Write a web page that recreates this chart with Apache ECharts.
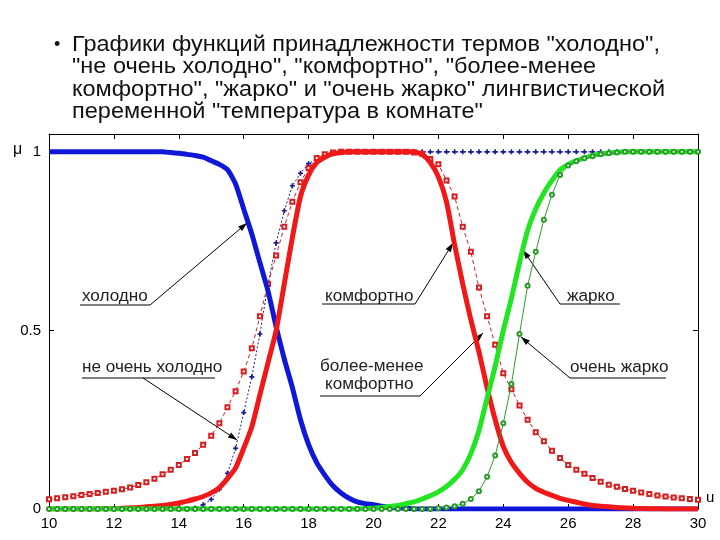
<!DOCTYPE html>
<html><head><meta charset="utf-8">
<script src="https://cdn.jsdelivr.net/npm/echarts@6/dist/echarts.min.js"></script>
<style>html,body{margin:0;padding:0;background:#fff}#c{width:720px;height:540px}</style>
</head><body><div id="c"></div>
<script>
// temperature grid (°C)
const temps = [
 10,10.25,10.5,10.75, 11,11.25,11.5,11.75, 12,12.25,12.5,12.75, 13,13.25,13.5,13.75,
 14,14.25,14.5,14.75, 15,15.25,15.5,15.75, 16,16.25,16.5,16.75, 17,17.25,17.5,17.75,
 18,18.25,18.5,18.75, 19,19.25,19.5,19.75, 20,20.25,20.5,20.75, 21,21.25,21.5,21.75,
 22,22.25,22.5,22.75, 23,23.25,23.5,23.75, 24,24.25,24.5,24.75, 25,25.25,25.5,25.75,
 26,26.25,26.5,26.75, 27,27.25,27.5,27.75, 28,28.25,28.5,28.75, 29,29.25,29.5,29.75, 30];

// "холодно"
const cold = [
 1,1,1,1, 1,1,1,1, 1,1,1,1, 1,1,1,0.998,
 0.996,0.993,0.99,0.985, 0.975,0.965,0.95,0.91, 0.84,0.77,0.69,0.61, 0.51,0.42,0.34,0.25,
 0.18,0.13,0.095,0.065, 0.045,0.03,0.02,0.015, 0.012,0.008,0.005,0.003, 0.002,0,0,0,
 0,0,0,0, 0,0,0,0, 0,0,0,0, 0,0,0,0,
 0,0,0,0, 0,0,0,0, 0,0,0,0, 0,0,0,0, 0];

// "не очень холодно"
const notVeryCold = [
 0,0,0,0, 0,0,0,0, 0,0,0,0, 0,0,0,0,
 0,0,0.003,0.012, 0.027,0.055,0.1,0.17, 0.27,0.37,0.49,0.63, 0.745,0.835,0.905,0.94,
 0.967,0.98,0.99,0.995, 0.998,1,1,1, 1,1,1,1, 1,1,1,1,
 1,1,1,1, 1,1,1,1, 1,1,1,1, 1,1,1,1,
 1,1,1,1, 1,1,1,1, 1,1,1,1, 1,1,1,1, 1];

// "комфортно"
const comfort = [
 0,0,0,0, 0,0,0,0.001, 0.001,0.002,0.003,0.004, 0.006,0.008,0.01,0.013,
 0.017,0.022,0.028,0.035, 0.045,0.06,0.085,0.115, 0.17,0.23,0.32,0.41, 0.5,0.63,0.76,0.875,
 0.935,0.97,0.985,0.995, 0.998,1,1,1, 1,1,1,1, 1,1,0.993,0.97,
 0.93,0.86,0.74,0.63, 0.53,0.44,0.34,0.25, 0.175,0.13,0.1,0.075, 0.058,0.047,0.038,0.03,
 0.024,0.019,0.014,0.01, 0.008,0.006,0.004,0.003, 0.002,0.0015,0.001,0.001, 0,0,0,0, 0];

// "более-менее комфортно"
const moreLessComfort = [
 0.027,0.03,0.033,0.036, 0.039,0.042,0.045,0.048, 0.051,0.055,0.06,0.067, 0.075,0.085,0.097,0.11,
 0.123,0.14,0.157,0.18, 0.205,0.24,0.285,0.33, 0.385,0.45,0.54,0.63, 0.71,0.79,0.86,0.915,
 0.955,0.983,0.993,0.998, 1,1,1,1, 1,1,1,1, 1,0.998,0.995,0.98,
 0.965,0.92,0.875,0.79, 0.72,0.62,0.54,0.46, 0.38,0.335,0.29,0.25, 0.215,0.19,0.163,0.143,
 0.123,0.11,0.099,0.087, 0.076,0.068,0.062,0.056, 0.051,0.046,0.042,0.038, 0.035,0.032,0.03,0.028, 0.026];

// "жарко"
const hot = [
 0,0,0,0, 0,0,0,0, 0,0,0,0, 0,0,0,0,
 0,0,0,0, 0,0,0,0, 0,0,0,0, 0,0,0,0,
 0,0,0,0, 0,0,0,0.001, 0.002,0.004,0.007,0.01, 0.015,0.02,0.028,0.037,
 0.048,0.063,0.083,0.11, 0.155,0.22,0.31,0.4, 0.5,0.59,0.69,0.78, 0.84,0.885,0.92,0.95,
 0.965,0.975,0.983,0.99, 0.994,0.997,0.999,1, 1,1,1,1, 1,1,1,1, 1];

// "очень жарко"
const veryHot = [
 0,0,0,0, 0,0,0,0, 0,0,0,0, 0,0,0,0,
 0,0,0,0, 0,0,0,0, 0,0,0,0, 0,0,0,0,
 0,0,0,0, 0,0,0,0, 0,0,0,0, 0,0,0,0,
 0.002,0.004,0.008,0.015, 0.028,0.05,0.09,0.15, 0.24,0.35,0.49,0.625, 0.72,0.81,0.88,0.935,
 0.962,0.974,0.982,0.988, 0.993,0.996,0.998,1, 1,1,1,1, 1,1,1,1, 1];

const xTicks = {min: 10, max: 30, step: 2};
const yTicks = {min: 0, max: 1.05, step: 0.5};

const titleLines = [
 'Графики функций принадлежности термов "холодно",',
 '"не очень холодно", "комфортно", "более-менее',
 'комфортно", "жарко" и "очень жарко" лингвистической',
 'переменной "температура в комнате"'
];

const pairs = ys => temps.map((t, i) => [t, ys[i]]);

const chart = echarts.init(document.getElementById('c'), null, {renderer: 'canvas'});

const titleFont = '22px "Liberation Sans"';
const ctx = document.createElement('canvas').getContext('2d');
ctx.font = titleFont;
const tScale = 588 / ctx.measureText(titleLines[0]).width;

const graphics = [];
graphics.push({type: 'text', x: 54, y: 45, style: {text: '•', font: '18px "Liberation Sans"', fill: '#111', verticalAlign: 'middle'}});
const titleY = [44.5, 67, 89.5, 112];
titleLines.forEach((t, i) => graphics.push({
  type: 'text', x: 72, y: titleY[i], scaleX: tScale,
  style: {text: t, font: titleFont, fill: '#111', verticalAlign: 'middle'}
}));

const annFont = '16px "Liberation Sans"';
function label(text, x, y) {
  graphics.push({type: 'text', x: x, y: y, scaleX: 1.07,
    style: {text: text, font: annFont, fill: '#222', verticalAlign: 'middle'}});
}
function seg(x1, y1, x2, y2) {
  graphics.push({type: 'line', shape: {x1, y1, x2, y2}, style: {stroke: '#000', lineWidth: 1}});
}
function arrow(x1, y1, x2, y2) {
  seg(x1, y1, x2, y2);
  const dx = x2 - x1, dy = y2 - y1, L = Math.hypot(dx, dy);
  const ux = dx / L, uy = dy / L, len = 9, hw = 3;
  const bx = x2 - ux * len, by = y2 - uy * len;
  graphics.push({type: 'polygon', shape: {points: [[x2, y2], [bx - uy * hw, by + ux * hw], [bx + uy * hw, by - ux * hw]]},
    style: {fill: '#000'}});
}
label('холодно', 82, 297); seg(80, 305, 150, 305); arrow(150, 305, 247, 223);
label('комфортно', 325, 297); seg(322, 304, 415, 304); arrow(415, 304, 453, 243);
label('жарко', 567, 297); seg(560, 304, 620, 304); arrow(560, 304, 523, 250);
label('не очень холодно', 82, 368); seg(82, 378, 215, 378); arrow(143, 378, 237, 440);
label('более-менее', 320, 367); label('комфортно', 325, 385); seg(320, 396, 420, 396); arrow(420, 396, 483, 333);
label('очень жарко', 570, 368); seg(570, 378, 666, 378); arrow(570, 378, 521, 337);
graphics.push({type: 'text', x: 13, y: 150, style: {text: 'μ', font: '16px "Liberation Sans"', fill: '#000', verticalAlign: 'middle'}});
graphics.push({type: 'text', x: 706, y: 498, style: {text: 'u', font: '15px "Liberation Sans"', fill: '#000', verticalAlign: 'middle'}});

const axisCommon = {
  axisLine: {onZero: false, lineStyle: {color: '#000', width: 1}},
  axisTick: {inside: true, length: 5, lineStyle: {color: '#000'}},
  splitLine: {show: false}
};
const lblStyle = {color: '#000', fontSize: 15, fontFamily: 'Liberation Sans'};

const plus = 'path://M2,0h2v2h2v2h-2v2h-2v-2h-2v-2h2z';

const option = {
  animation: false,
  backgroundColor: '#fff',
  graphic: graphics,
  grid: {left: 49, right: 22, top: 134, bottom: 31},
  xAxis: [
    Object.assign({type: 'value', min: xTicks.min, max: xTicks.max, interval: xTicks.step,
      axisLabel: Object.assign({margin: 7}, lblStyle)}, axisCommon),
    Object.assign({type: 'value', position: 'top', min: xTicks.min, max: xTicks.max, interval: xTicks.step,
      axisLabel: {show: false}}, axisCommon)
  ],
  yAxis: [
    Object.assign({type: 'value', min: yTicks.min, max: yTicks.max, interval: yTicks.step,
      axisLabel: Object.assign({margin: 8, showMaxLabel: false}, lblStyle)}, axisCommon),
    Object.assign({type: 'value', position: 'right', min: yTicks.min, max: yTicks.max, interval: yTicks.step,
      axisLabel: {show: false}}, axisCommon)
  ],
  series: [
    {name: 'не очень холодно', type: 'line', data: pairs(notVeryCold), z: 2,
      lineStyle: {color: '#1a1a9a', width: 1, type: [2, 2]},
      symbol: plus, symbolSize: 5, itemStyle: {color: '#1a1a9a'}, showAllSymbol: true},
    {name: 'более-менее комфортно', type: 'line', data: pairs(moreLessComfort), z: 3,
      lineStyle: {color: '#d42020', width: 1, type: [4, 3]},
      symbol: 'emptyRect', symbolSize: 4, itemStyle: {color: '#d42020', borderWidth: 1}, showAllSymbol: true},
    {name: 'холодно', type: 'line', data: pairs(cold), z: 4, smooth: 0.2, symbol: 'none',
      lineStyle: {color: '#1018d8', width: 5}},
    {name: 'комфортно', type: 'line', data: pairs(comfort), z: 5, smooth: 0.2, symbol: 'none',
      lineStyle: {color: '#f01818', width: 5}},
    {name: 'жарко', type: 'line', data: pairs(hot), z: 6, smooth: 0.2, symbol: 'none',
      lineStyle: {color: '#22e622', width: 5}},
    {name: 'очень жарко', type: 'line', data: pairs(veryHot), z: 7,
      lineStyle: {color: '#2aa02a', width: 1},
      symbol: 'emptyCircle', symbolSize: 4, itemStyle: {color: '#2a9a2a', borderWidth: 1}, showAllSymbol: true}
  ]
};
chart.setOption(option);
</script></body></html>
